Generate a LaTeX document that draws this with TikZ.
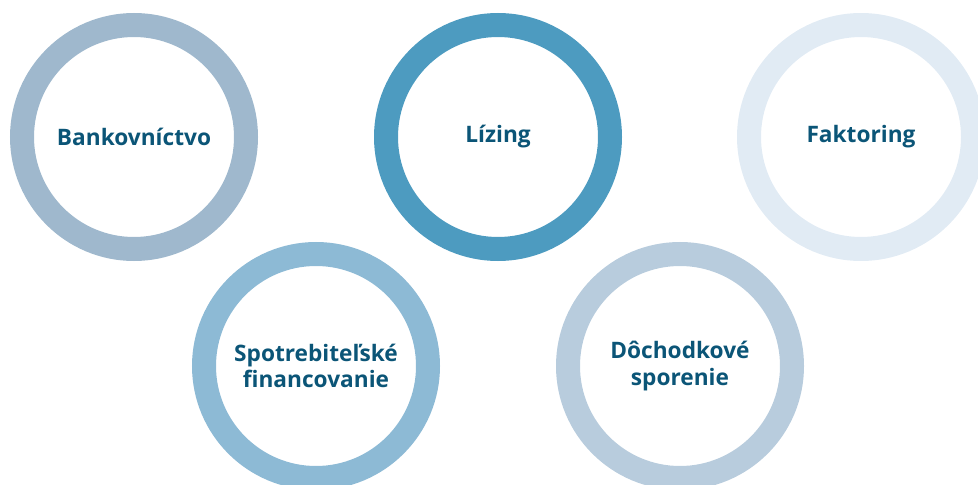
\documentclass[tikz,border=0pt]{standalone}
\usepackage{fontspec}
\setmainfont{Open Sans}
\usetikzlibrary{positioning}

\definecolor{ringbank}{HTML}{9FB8CD}
\definecolor{ringlease}{HTML}{4D9BC0}
\definecolor{ringfactor}{HTML}{E1EBF4}
\definecolor{ringconsumer}{HTML}{8DBAD5}
\definecolor{ringpension}{HTML}{B8CCDD}
\definecolor{labeltext}{HTML}{0B5577}

\begin{document}
\begin{tikzpicture}[x=0.75pt,y=-0.75pt,
    ring/.style={circle,line width=18pt,minimum size=168pt,inner sep=0pt,
        text=labeltext,font=\bfseries\fontsize{17}{20}\selectfont,align=center}]

    \useasboundingbox (0,0) rectangle (978,485);
    \clip (0,0) rectangle (978,485);

    % top row
    \node[ring,draw=ringbank] (bank) at (134,137) {Bankovníctvo};
    \node[ring,draw=ringlease] (lease) at (498,137) {Lízing};
    \node[ring,draw=ringfactor] (factor) at (861,137) {Faktoring};

    % bottom row
    \node[ring,draw=ringconsumer] (consumer) at (316,366) {Spotrebiteľské\\financovanie};
    \node[ring,draw=ringpension] (pension) at (680,366) {Dôchodkové\\sporenie};

\end{tikzpicture}
\end{document}
